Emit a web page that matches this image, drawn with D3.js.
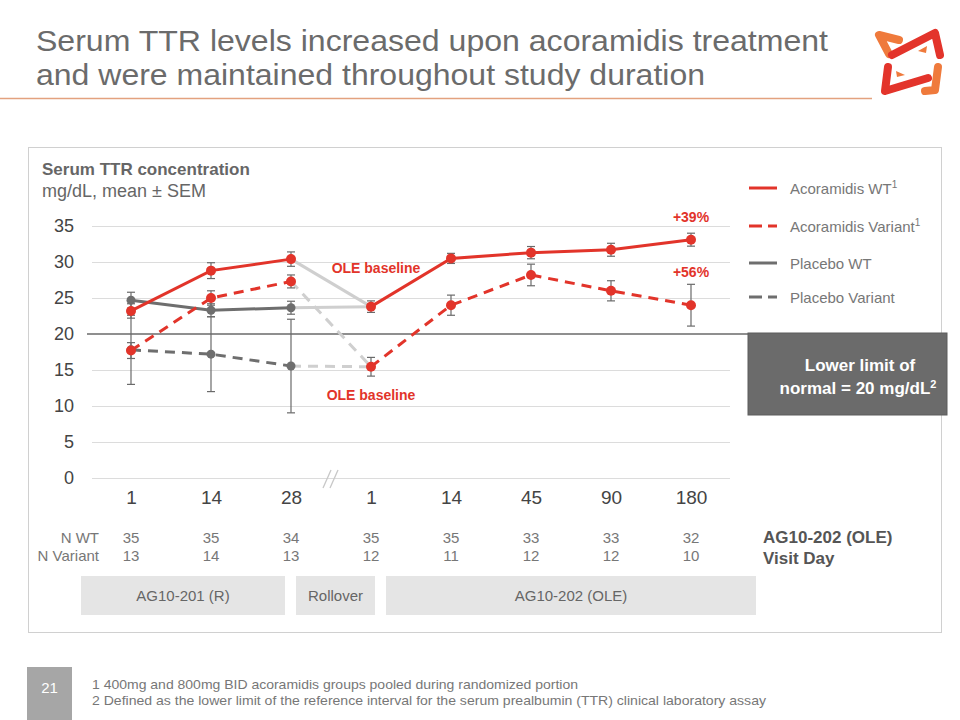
<!DOCTYPE html>
<html>
<head>
<meta charset="utf-8">
<script src="https://cdn.jsdelivr.net/npm/d3@7"></script>
<style>
  body { margin: 0; background: #fff; }
  text { font-family: "Liberation Sans", Arial, sans-serif; }
</style>
</head>
<body>
<div id="chart"></div>
<script>
// visit days, two study periods (R = AG10-201, O = AG10-202 OLE)
var visits = ["R1", "R14", "R28", "O1", "O14", "O45", "O90", "O180"];
var dayLabels = ["1", "14", "28", "1", "14", "45", "90", "180"];

var acoWT      = [23.2, 28.8, 30.4, 23.8, 30.5, 31.3, 31.7, 33.1];
var acoWTsem   = [1.0, 1.1, 1.0, 0.8, 0.7, 0.85, 0.9, 0.9];
var acoVar     = [17.7, 25.0, 27.3, 15.45, 24.0, 28.2, 26.0, 24.0];
var acoVarSem  = [1.1, 1.0, 0.9, 1.3, 1.4, 1.5, 1.4, 2.9];
var placWT     = [24.7, 23.3, 23.65];
var placWTsem  = [1.1, 0.9, 0.9];
var placVar    = [17.8, 17.2, 15.55];
var placVarSem = [4.8, 5.2, 6.5];

var nWT  = [35, 35, 34, 35, 35, 33, 33, 32];
var nVar = [13, 14, 13, 12, 11, 12, 12, 10];
var yTicks = [0, 5, 10, 15, 20, 25, 30, 35];

var legendItems = [
  { name: "Acoramidis WT", sup: "1", color: "#e2342a", dash: null },
  { name: "Acoramidis Variant", sup: "1", color: "#e2342a", dash: "13,6" },
  { name: "Placebo WT", sup: "", color: "#6e6e6e", dash: null },
  { name: "Placebo Variant", sup: "", color: "#6e6e6e", dash: "13,6" }
];
var studies = ["AG10-201 (R)", "Rollover", "AG10-202 (OLE)"];

var RED = "#e2342a", GREY = "#6e6e6e", LIGHT = "#cfcfcf";

var svg = d3.select("#chart").append("svg")
  .attr("width", 960).attr("height", 720);

// title
var title = svg.append("g").attr("fill", "#6b6b6b").style("font-size", "30px");
title.append("text").attr("x", 36).attr("y", 51)
  .attr("textLength", 792).attr("lengthAdjust", "spacingAndGlyphs")
  .text("Serum TTR levels increased upon acoramidis treatment");
title.append("text").attr("x", 36).attr("y", 85)
  .attr("textLength", 669).attr("lengthAdjust", "spacingAndGlyphs")
  .text("and were maintained throughout study duration");
svg.append("line")
  .attr("x1", 0).attr("x2", 872).attr("y1", 98.5).attr("y2", 98.5)
  .attr("stroke", "#e3a27f").attr("stroke-width", 1.5);

// logo
var logo = svg.append("g").attr("fill", "none")
  .attr("stroke-linecap", "round").attr("stroke-linejoin", "round");
logo.append("path").attr("d", "M889,54 L879,35 L899,40")
  .attr("stroke", "#ef7a3c").attr("stroke-width", 8);
logo.append("path").attr("d", "M892,55 L935,33 L940,55")
  .attr("stroke", "#e3342b").attr("stroke-width", 8);
logo.append("path").attr("d", "M888,67 L885,91 L928,78")
  .attr("stroke", "#e3342b").attr("stroke-width", 8);
logo.append("path").attr("d", "M938,67 L935,90 L925,91")
  .attr("stroke", "#ef7a3c").attr("stroke-width", 8);
logo.append("path").attr("d", "M918,51 L927,46 L926,53 Z").attr("fill", "#ef7a3c").attr("stroke", "none");
logo.append("path").attr("d", "M896,71 L905,75 L897,77 Z").attr("fill", "#ef7a3c").attr("stroke", "none");

// panel
svg.append("rect").attr("x", 28.5).attr("y", 147.5).attr("width", 913).attr("height", 485)
  .attr("fill", "none").attr("stroke", "#d0d0d0");

svg.append("text").attr("x", 42).attr("y", 175).attr("fill", "#666")
  .style("font-size", "17px").style("font-weight", "bold").text("Serum TTR concentration");
svg.append("text").attr("x", 42).attr("y", 197).attr("fill", "#666")
  .style("font-size", "18px").text("mg/dL, mean \u00b1 SEM");

// scales
var x = d3.scalePoint().domain(visits).range([91, 731]).padding(0.5);
var y = d3.scaleLinear().domain([0, 35]).range([478, 226]);

// grid
svg.append("g").selectAll("line").data(yTicks.filter(d => d !== 20)).join("line")
  .attr("x1", 92).attr("x2", 730)
  .attr("y1", d => y(d) + 0.5).attr("y2", d => y(d) + 0.5)
  .attr("stroke", "#dcdcdc").attr("stroke-width", 1);

// y axis labels
var yAxis = svg.append("g").attr("transform", "translate(74,0)")
  .call(d3.axisLeft(y).tickValues(yTicks).tickSize(0).tickPadding(0));
yAxis.select(".domain").remove();
yAxis.selectAll("text").attr("fill", "#444").style("font-size", "18px")
  .style("font-family", "Liberation Sans, Arial, sans-serif");

// x axis labels
var xAxis = svg.append("g").attr("transform", "translate(0,490)")
  .call(d3.axisBottom(x).tickFormat((d, i) => dayLabels[i]).tickSize(0).tickPadding(0));
xAxis.select(".domain").remove();
xAxis.selectAll("text").attr("fill", "#444").style("font-size", "19px")
  .style("font-family", "Liberation Sans, Arial, sans-serif").attr("dy", "0.71em");

// axis break
var bx = (x("R28") + x("O1")) / 2;
svg.append("g").selectAll("line").data([-4, 3]).join("line")
  .attr("x1", d => bx + d - 4).attr("x2", d => bx + d + 4)
  .attr("y1", 488).attr("y2", 470)
  .attr("stroke", "#c8c8c8").attr("stroke-width", 1.3);

// lower limit line + box
svg.append("line").attr("x1", 87).attr("x2", 748).attr("y1", y(20)).attr("y2", y(20))
  .attr("stroke", "#6a6a6a").attr("stroke-width", 1.6);
svg.append("rect").attr("x", 748).attr("y", y(20) - 1).attr("width", 199).attr("height", 82)
  .attr("fill", "#6b6b6b").attr("stroke", "#5c5c5c");
svg.append("text").attr("x", 860).attr("y", 371).attr("text-anchor", "middle")
  .attr("fill", "#fff").style("font-size", "17px").style("font-weight", "bold")
  .text("Lower limit of");
var ll = svg.append("text").attr("x", 858).attr("y", 394).attr("text-anchor", "middle")
  .attr("fill", "#fff").style("font-size", "17px").style("font-weight", "bold");
ll.append("tspan").text("normal = 20 mg/dL");
ll.append("tspan").attr("dy", -6).style("font-size", "11px").text("2");

// series
var line = d3.line().x(d => x(d.k)).y(d => y(d.v));
function pts(vals, sems) {
  return vals.map((v, i) => ({ k: visits[i], v: v, s: sems[i] }));
}
var sAcoWT = pts(acoWT, acoWTsem), sAcoVar = pts(acoVar, acoVarSem);
var sPlWT = pts(placWT, placWTsem), sPlVar = pts(placVar, placVarSem);

// rollover connectors (light grey)
var conn = svg.append("g").attr("fill", "none").attr("stroke", LIGHT).attr("stroke-width", 3);
conn.append("path").attr("d", line([sAcoWT[2], sAcoWT[3]]));
conn.append("path").attr("d", line([sPlWT[2], sAcoWT[3]]));
conn.append("path").attr("d", line([sAcoVar[2], sAcoVar[3]])).attr("stroke-dasharray", "10,7");
conn.append("path").attr("d", line([sPlVar[2], sAcoVar[3]])).attr("stroke-dasharray", "10,7");

function drawLine(data, color, dash) {
  svg.append("path").attr("d", line(data)).attr("fill", "none")
    .attr("stroke", color).attr("stroke-width", 3)
    .attr("stroke-dasharray", dash);
}
drawLine(sPlWT, GREY, null);
drawLine(sPlVar, GREY, "10,7");
drawLine(sAcoWT.slice(0, 3), RED, null);
drawLine(sAcoWT.slice(3), RED, null);
drawLine(sAcoVar.slice(0, 3), RED, "10,7");
drawLine(sAcoVar.slice(3), RED, "10,7");

// error bars
var allPts = sPlWT.concat(sPlVar, sAcoWT, sAcoVar);
var eb = svg.append("g").attr("stroke", "#6a6a6a").attr("stroke-width", 1.2);
eb.selectAll(".v").data(allPts).join("line")
  .attr("x1", d => x(d.k)).attr("x2", d => x(d.k))
  .attr("y1", d => y(d.v - d.s)).attr("y2", d => y(d.v + d.s));
eb.selectAll(".t").data(allPts.flatMap(d => [d.v - d.s, d.v + d.s].map(v => ({ k: d.k, v: v }))))
  .join("line")
  .attr("x1", d => x(d.k) - 4).attr("x2", d => x(d.k) + 4)
  .attr("y1", d => y(d.v)).attr("y2", d => y(d.v));

// points
function drawPts(data, color, r) {
  svg.append("g").selectAll("circle").data(data).join("circle")
    .attr("cx", d => x(d.k)).attr("cy", d => y(d.v)).attr("r", r).attr("fill", color);
}
drawPts(sPlWT, GREY, 4.5);
drawPts(sPlVar, GREY, 4.5);
drawPts(sAcoWT, RED, 5);
drawPts(sAcoVar, RED, 5);

// annotations
var ann = svg.append("g").attr("fill", RED).style("font-size", "14px").style("font-weight", "bold")
  .attr("text-anchor", "middle");
ann.append("text").attr("x", 376).attr("y", 273).text("OLE baseline");
ann.append("text").attr("x", 371).attr("y", 400).text("OLE baseline");
ann.append("text").attr("x", x("O180")).attr("y", 222).text("+39%");
ann.append("text").attr("x", x("O180")).attr("y", 277).text("+56%");

// legend
var lg = svg.append("g").selectAll("g").data(legendItems).join("g")
  .attr("transform", (d, i) => "translate(749," + [188, 226, 263, 297][i] + ")");
lg.append("line").attr("x1", 0).attr("x2", 28)
  .attr("stroke", d => d.color).attr("stroke-width", 3)
  .attr("stroke-dasharray", d => d.dash);
var lt = lg.append("text").attr("x", 41).attr("y", 6).attr("fill", "#777").style("font-size", "15px");
lt.append("tspan").text(d => d.name);
lt.append("tspan").attr("dy", -6).style("font-size", "10px").text(d => d.sup);

// N rows
var nRows = svg.append("g").attr("fill", "#777").style("font-size", "15px");
nRows.append("text").attr("x", 99).attr("y", 543).attr("text-anchor", "end").text("N WT");
nRows.append("text").attr("x", 99).attr("y", 561).attr("text-anchor", "end").text("N Variant");
nRows.selectAll(".nw").data(nWT).join("text").attr("text-anchor", "middle")
  .attr("x", (d, i) => x(visits[i])).attr("y", 543).text(d => d);
nRows.selectAll(".nv").data(nVar).join("text").attr("text-anchor", "middle")
  .attr("x", (d, i) => x(visits[i])).attr("y", 561).text(d => d);

svg.append("text").attr("x", 763).attr("y", 543).attr("fill", "#555")
  .style("font-size", "17px").style("font-weight", "bold").text("AG10-202 (OLE)");
svg.append("text").attr("x", 763).attr("y", 564).attr("fill", "#555")
  .style("font-size", "17px").style("font-weight", "bold").text("Visit Day");

// study blocks
var blockX = [[81, 285], [296, 375], [386, 756]];
var blk = svg.append("g").selectAll("g").data(studies).join("g");
blk.append("rect").attr("x", (d, i) => blockX[i][0]).attr("y", 576)
  .attr("width", (d, i) => blockX[i][1] - blockX[i][0]).attr("height", 39)
  .attr("fill", "#e5e5e5");
blk.append("text").attr("x", (d, i) => (blockX[i][0] + blockX[i][1]) / 2).attr("y", 601)
  .attr("text-anchor", "middle").attr("fill", "#666").style("font-size", "15px")
  .text(d => d);

// footer
svg.append("rect").attr("x", 27).attr("y", 667).attr("width", 45).attr("height", 53).attr("fill", "#a6a6a6");
svg.append("text").attr("x", 49.5).attr("y", 693).attr("text-anchor", "middle")
  .attr("fill", "#fff").style("font-size", "15px").text("21");
var fn = svg.append("g").attr("fill", "#777").style("font-size", "13px");
fn.append("text").attr("x", 92).attr("y", 689)
  .attr("textLength", 486).attr("lengthAdjust", "spacingAndGlyphs")
  .text("1 400mg and 800mg BID acoramidis groups pooled during randomized portion");
fn.append("text").attr("x", 92).attr("y", 705)
  .attr("textLength", 674).attr("lengthAdjust", "spacingAndGlyphs")
  .text("2 Defined as the lower limit of the reference interval for the serum prealbumin (TTR) clinical laboratory assay");
</script>
</body>
</html>
